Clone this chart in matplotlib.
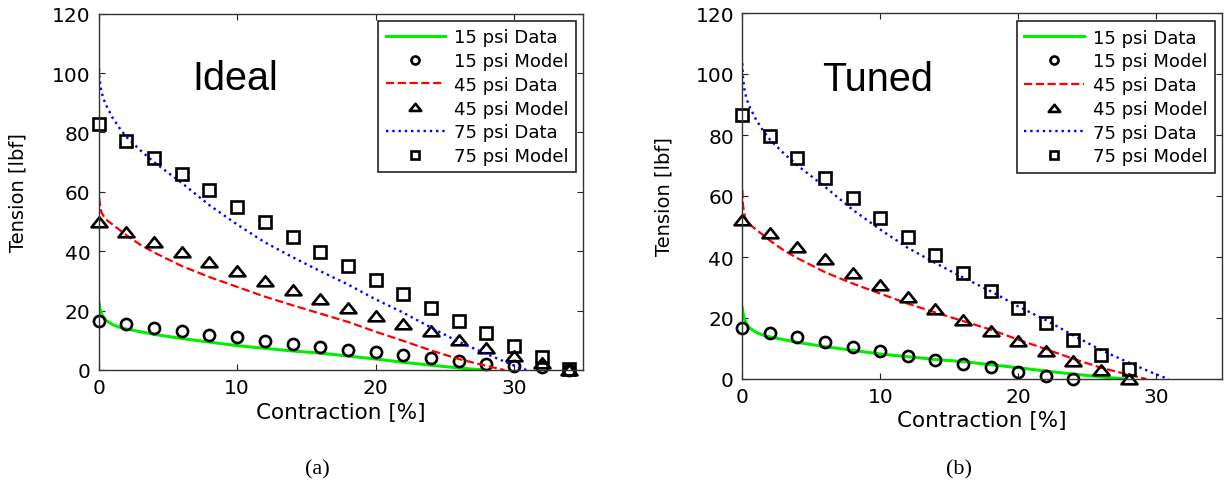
import matplotlib
matplotlib.use("Agg")
import matplotlib.pyplot as plt
from matplotlib.path import Path

plt.rcParams['font.family'] = ['DejaVu Sans']

# ---- Data curves (measured, shared by both panels) ----
x_15_data = [0, 0.1, 0.25, 0.5, 1, 1.5, 2, 3, 4, 6, 8, 10, 12, 14, 16, 18, 20, 22, 24, 26, 27, 27.8]
y_15_data = [23.3, 20.5, 18.5, 16.8, 15.3, 14.4, 13.8, 12.9, 12.0, 10.6, 9.4, 8.2, 7.3, 6.4, 5.7, 4.7, 3.7, 2.6, 1.6, 0.7, 0.3, 0.0]

x_45_data = [0, 0.05, 0.2, 0.5, 1, 1.5, 2, 3, 4, 6, 8, 10, 12, 14, 16, 18, 20, 22, 24, 26, 28, 29.3]
y_45_data = [62, 57, 53, 50.8, 49.0, 47.2, 45.4, 42.2, 39.6, 35.0, 31.3, 28.0, 24.7, 21.8, 19.0, 16.2, 12.9, 9.8, 6.6, 3.7, 1.4, 0.0]

x_75_data = [0, 0.05, 0.15, 0.3, 0.5, 1, 1.5, 2, 3, 4, 6, 8, 10, 12, 14, 16, 18, 20, 22, 24, 26, 28, 30, 30.9]
y_75_data = [103.5, 99, 95, 92, 89.5, 85, 81.5, 78.5, 74, 70, 63, 55.5, 49, 43, 38, 33.3, 28.8, 23.8, 19.3, 14.3, 9.5, 5.4, 1.5, 0.0]

# ---- Model points: (a) Ideal ----
x_model_a = [0, 2, 4, 6, 8, 10, 12, 14, 16, 18, 20, 22, 24, 26, 28, 30, 32, 34]
y_15_model_a = [16.6, 15.4, 14.1, 13.0, 11.9, 11.0, 9.9, 8.8, 7.9, 6.7, 5.9, 5.1, 4.0, 3.1, 2.1, 1.4, 0.9, 0.1]
y_45_model_a = [49.7, 46.6, 43.0, 39.6, 36.4, 33.2, 30.1, 26.9, 23.8, 21.0, 18.3, 15.5, 13.0, 10.0, 7.3, 4.8, 2.2, 0.1]
y_75_model_a = [82.7, 77.0, 71.4, 65.9, 60.5, 55.0, 50.0, 44.9, 39.9, 35.0, 30.3, 25.6, 20.9, 16.5, 12.6, 8.1, 4.5, 0.2]

# ---- Model points: (b) Tuned ----
x_15_model_b = [0, 2, 4, 6, 8, 10, 12, 14, 16, 18, 20, 22, 24]
y_15_model_b = [16.8, 15.1, 13.7, 12.1, 10.4, 9.1, 7.7, 6.1, 5.0, 3.8, 2.2, 1.1, 0.1]
x_model_b = [0, 2, 4, 6, 8, 10, 12, 14, 16, 18, 20, 22, 24, 26, 28]
y_45_model_b = [52.2, 47.8, 43.3, 39.2, 34.6, 30.7, 26.8, 23.1, 19.3, 15.6, 12.4, 9.1, 6.0, 3.1, 0.0]
y_75_model_b = [86.7, 79.8, 72.4, 65.9, 59.2, 52.9, 46.6, 40.5, 34.8, 28.8, 23.3, 18.2, 12.9, 7.8, 3.3]

labels = ['15 psi Data', '15 psi Model', '45 psi Data', '45 psi Model', '75 psi Data', '75 psi Model']
x_ticks = [0, 10, 20, 30]
y_ticks = [0, 20, 40, 60, 80, 100, 120]

W, H = 1225, 485
fig = plt.figure(figsize=(W / 100, H / 100), dpi=100)

# wide, flat open triangle like the reference
tri_marker = Path([(-1.0, -0.6), (1.0, -0.6), (0.0, 0.65), (-1.0, -0.6)],
                  [Path.MOVETO, Path.LINETO, Path.LINETO, Path.CLOSEPOLY])


def px_rect(l, r, t, b):
    return [l / W, 1 - b / H, (r - l) / W, (b - t) / H]


def panel(rect, xmax, x15m, y15m, x45m, y45m, x75m, y75m, title, title_xy,
          leg_anchor, ylab_x, xlab_y, caption, cap_x):
    ax = fig.add_axes(rect)
    mk = dict(linestyle='none', markerfacecolor='none', markeredgecolor='black',
              markeredgewidth=1.9, color='black')
    h1, = ax.plot(x_15_data, y_15_data, color='#00ee00', lw=2.2, linestyle='-')
    h2, = ax.plot(x15m, y15m, marker='o', markersize=8, **mk)
    h3, = ax.plot(x_45_data, y_45_data, color='#ff0000', lw=1.6, linestyle='--')
    h4, = ax.plot(x45m, y45m, marker=tri_marker, markersize=11.5, **mk)
    h5, = ax.plot(x_75_data, y_75_data, color='#0000ff', lw=1.7, linestyle=':')
    h6, = ax.plot(x75m, y75m, marker='s', markersize=8.5, **mk)
    for h in (h2, h4, h6):
        h.set_clip_on(False)
    ax.set_xlim(0, xmax)
    ax.set_ylim(0, 120)
    ax.set_xticks(x_ticks)
    ax.set_yticks(y_ticks)
    ax.tick_params(direction='in', length=4, width=0.8, top=True, right=True,
                   labelsize=14.5, pad=6, colors='#222222', labelcolor='black')
    for s in ax.spines.values():
        s.set_color('#333333')
        s.set_linewidth(1.0)
    ax.set_xlabel('Contraction [%]', fontsize=15.5)
    ax.set_ylabel('Tension [lbf]', fontsize=14)
    ax.xaxis.label.set_va('center')
    ax.yaxis.label.set_va('center')
    ax.xaxis.set_label_coords(0.5, xlab_y)
    ax.yaxis.set_label_coords(ylab_x, 0.5)
    ax.text(title_xy[0], title_xy[1], title, fontsize=28.5, ha='left', va='center',
            family=['Liberation Sans', 'DejaVu Sans'])
    leg = ax.legend([h1, h2, h3, h4, h5, h6], labels, loc='upper right',
                    bbox_to_anchor=leg_anchor, bbox_transform=fig.transFigure,
                    borderaxespad=0, fontsize=13, fancybox=False, framealpha=1,
                    edgecolor='#222222', handlelength=3.3, handletextpad=0.5,
                    labelspacing=0.32, borderpad=0.4, markerscale=0.72)
    leg.get_frame().set_linewidth(1.2)
    fig.text(cap_x / W, 1 - 470 / H, caption, fontsize=16,
             family=['Liberation Serif', 'DejaVu Serif'], ha='center', va='center')
    return ax


panel(px_rect(98.7, 583.3, 14.7, 371), 35,
      x_model_a, y_15_model_a, x_model_a, y_45_model_a, x_model_a, y_75_model_a,
      'Ideal', (6.8, 98.3), (576 / W, 1 - 22 / H), -0.167, -0.118, '(a)', 317)

panel(px_rect(742.3, 1221.7, 14, 380), 34.75,
      x_15_model_b, y_15_model_b, x_model_b, y_45_model_b, x_model_b, y_75_model_b,
      'Tuned', (5.8, 98.4), (1214.7 / W, 1 - 22.3 / H), -0.163, -0.112, '(b)', 959)

fig.savefig('out.png', dpi=100)
